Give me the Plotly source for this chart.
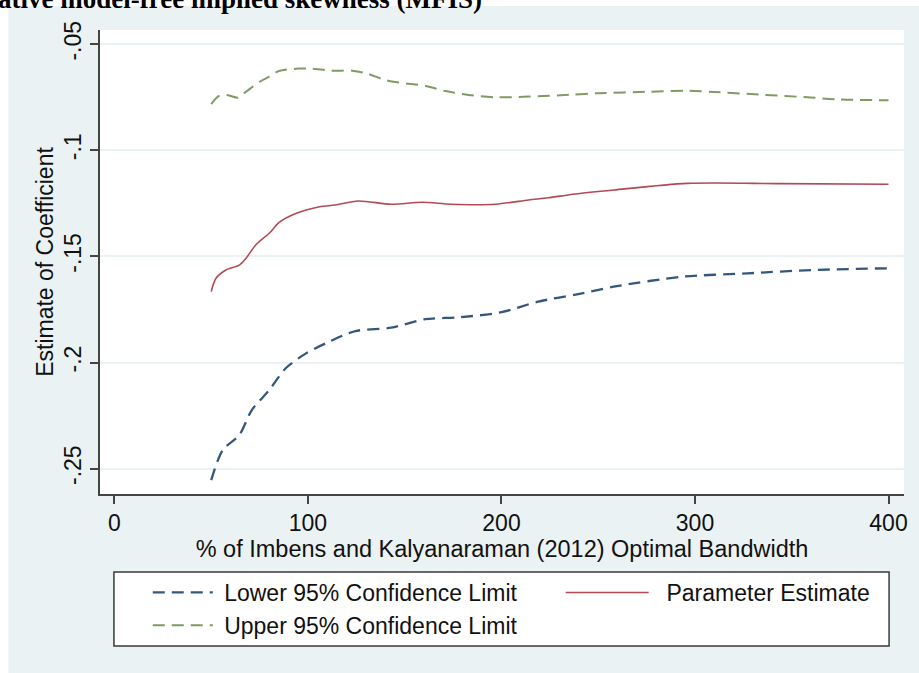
import plotly.graph_objects as go

# ---- data ----
lower_x = [50, 56, 64.5, 71, 80, 88.5, 99, 111, 124.5, 143, 160.5, 178, 200, 219, 239, 258, 293, 327, 361, 400]
lower_y = [-0.2554, -0.2412, -0.2342, -0.2224, -0.2130, -0.2027, -0.1957, -0.1902, -0.1852, -0.1836,
           -0.1796, -0.1787, -0.1763, -0.1713, -0.1679, -0.1643, -0.1596, -0.1580, -0.1564, -0.1556]

param_x = [50, 52.5, 57.6, 64.5, 68, 73, 80, 85, 94, 106, 114, 126, 143, 159, 174, 197, 214, 224, 238, 258, 296, 344, 400]
param_y = [-0.1666, -0.1603, -0.1564, -0.1541, -0.1509, -0.1446, -0.1391, -0.1341, -0.1297, -0.1266, -0.1258,
           -0.1239, -0.1254, -0.1245, -0.1254, -0.1254, -0.1234, -0.1224, -0.1206, -0.1187, -0.1156, -0.1157, -0.1160]

upper_x = [50, 54, 58, 64, 68, 75, 80, 85, 95, 102, 112, 123, 130, 140, 147, 161, 171, 183, 197, 214, 236, 250,
           276, 296, 310, 336, 358, 373, 400]
upper_y = [-0.0782, -0.0744, -0.0739, -0.0752, -0.0724, -0.0677, -0.0653, -0.0626, -0.0615, -0.0615, -0.0625,
           -0.0625, -0.0637, -0.0669, -0.0681, -0.0697, -0.0721, -0.0739, -0.0750, -0.0747, -0.0738, -0.0731,
           -0.0724, -0.0719, -0.0725, -0.0739, -0.0750, -0.0760, -0.0764]

x_ticks = [0, 100, 200, 300, 400]
y_ticks = [-0.25, -0.2, -0.15, -0.1, -0.05]
y_ticktext = ["-.25", "-.2", "-.15", "-.1", "-.05"]

names = ["Lower 95% Confidence Limit", "Parameter Estimate", "Upper 95% Confidence Limit"]
title_text = "Negative model-free implied skewness (MFIS)"
x_title = "% of Imbens and Kalyanaraman (2012) Optimal Bandwidth"
y_title = "Estimate of Coefficient"

# ---- styling ----
W, H = 919, 673
ML, MR, MT, MB = 100, 11, 30, 179
PW, PH = W - ML - MR, H - MT - MB
BG = "#EAF2F3"
FONT = "Liberation Sans, Arial, sans-serif"
NB = "\u00a0"


def px_x(p):
    return (p - ML) / PW


def px_y(p):
    return (H - MB - p) / PH


fig = go.Figure()
fig.add_trace(go.Scatter(x=lower_x, y=lower_y, mode="lines", name=NB + names[0], legend="legend",
                         line=dict(color="#34587C", width=2.3, dash="12px,7px", shape="spline", smoothing=0.8)))
fig.add_trace(go.Scatter(x=param_x, y=param_y, mode="lines", name=NB * 2 + names[1], legend="legend2",
                         line=dict(color="#B24A55", width=1.6, shape="spline", smoothing=0.8)))
fig.add_trace(go.Scatter(x=upper_x, y=upper_y, mode="lines", name=NB + names[2], legend="legend",
                         line=dict(color="#7E9B62", width=2.0, dash="12px,7px", shape="spline", smoothing=0.8)))

shapes = [
    # graph region background
    dict(type="rect", xref="paper", yref="paper", x0=px_x(8), x1=px_x(925), y0=px_y(680), y1=px_y(6),
         fillcolor=BG, line=dict(width=0), layer="below"),
    # plot region
    dict(type="rect", xref="paper", yref="paper", x0=0, x1=px_x(908), y0=0, y1=1,
         fillcolor="white", line=dict(width=0), layer="below"),
    # legend box
    dict(type="rect", xref="paper", yref="paper", x0=px_x(114), x1=px_x(893), y0=px_y(646), y1=px_y(572),
         fillcolor="white", line=dict(color="#3a3a3a", width=1.5), layer="below"),
]

fig.update_layout(
    width=W, height=H,
    margin=dict(l=ML, r=MR, t=MT, b=MB),
    paper_bgcolor="white",
    plot_bgcolor="white",
    font=dict(family=FONT, size=23, color="#111111"),
    shapes=shapes,
    showlegend=True,
    legend=dict(x=px_x(148), y=px_y(571), xanchor="left", yanchor="top", orientation="v",
                bgcolor="rgba(0,0,0,0)", borderwidth=0, font=dict(size=23), itemwidth=60,
                tracegroupgap=0),
    legend2=dict(x=px_x(563), y=px_y(571), xanchor="left", yanchor="top", orientation="v",
                 bgcolor="rgba(0,0,0,0)", borderwidth=0, font=dict(size=23), itemwidth=83),
    annotations=[
        dict(text="<b>" + title_text + "</b>", xref="paper", yref="paper", x=px_x(486), y=px_y(16),
             xanchor="right", yanchor="bottom", showarrow=False,
             font=dict(family="Liberation Serif, Times New Roman, serif", size=27, color="black"))
    ],
)

fig.update_xaxes(
    range=[-7.46, 408], tickvals=x_ticks, ticks="outside", ticklen=8, tickwidth=1.5, tickcolor="#444",
    showline=True, linecolor="#444", linewidth=1.5, showgrid=False, zeroline=False,
    title=dict(text=x_title, standoff=1, font=dict(size=23.5)),
)
fig.update_yaxes(
    range=[-0.26197, -0.04331], tickvals=y_ticks, ticktext=y_ticktext, tickangle=-90,
    ticks="outside", ticklen=8, tickwidth=1.5, tickcolor="#444",
    showline=True, linecolor="#444", linewidth=1.5, showgrid=True, gridcolor=BG, gridwidth=1.5,
    zeroline=False,
    title=dict(text=y_title, standoff=0, font=dict(size=23)),
)

fig.write_html("out.html")
